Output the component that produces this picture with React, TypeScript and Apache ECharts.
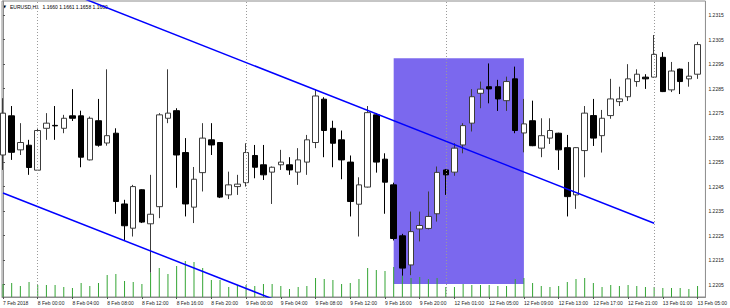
import React, { useEffect, useRef } from 'react';
import * as echarts from 'echarts';

const symbolName = 'EURUSD,H1';
const headerPrices = '1.1660 1.1661 1.1658 1.1660';

const xTickLabels = [
  '7 Feb 2018', '8 Feb 00:00', '8 Feb 04:00', '8 Feb 08:00', '8 Feb 12:00', '8 Feb 16:00', '8 Feb 20:00',
  '9 Feb 00:00', '9 Feb 04:00', '9 Feb 08:00', '9 Feb 12:00', '9 Feb 16:00', '9 Feb 20:00',
  '12 Feb 01:00', '12 Feb 05:00', '12 Feb 09:00', '12 Feb 13:00', '12 Feb 17:00', '12 Feb 21:00',
  '13 Feb 01:00', '13 Feb 05:00',
];
const barsPerLabel = 4;

const priceTicks = [
  1.2205, 1.2215, 1.2225, 1.2235, 1.2245, 1.2255, 1.2265, 1.2275, 1.2285, 1.2295, 1.2305, 1.2315,
];

const opens = [
  1.22579, 1.22739, 1.22600, 1.22619, 1.22517, 1.22688, 1.22700, 1.22688, 1.22739, 1.22739,
  1.22559, 1.22719, 1.22628, 1.22668, 1.22379, 1.22280, 1.22437, 1.22298, 1.22368, 1.22729,
  1.22760, 1.22589, 1.22366, 1.22507, 1.22641, 1.22630, 1.22416, 1.22450, 1.22466, 1.22577,
  1.22539, 1.22509, 1.22539, 1.22539, 1.22509, 1.22550, 1.22630, 1.22807, 1.22688, 1.22641,
  1.22550, 1.22378, 1.22448, 1.22743, 1.22562, 1.22457, 1.22249, 1.22130, 1.22277, 1.22279,
  1.22339, 1.22518, 1.22509, 1.22620, 1.22709, 1.22831, 1.22858, 1.22858, 1.22801, 1.22890,
  1.22669, 1.22719, 1.22607, 1.22648, 1.22668, 1.22609, 1.22416, 1.22597, 1.22740, 1.22658,
  1.22740, 1.22797, 1.22817, 1.22879, 1.22897, 1.22897, 1.22978, 1.22845, 1.22930, 1.22890,
  1.22909,
];
const closes = [
  1.22750, 1.22590, 1.22630, 1.22528, 1.22679, 1.22709, 1.22698, 1.22729, 1.22729, 1.22570,
  1.22729, 1.22619, 1.22658, 1.22389, 1.22290, 1.22450, 1.22305, 1.22337, 1.22743, 1.22750,
  1.22579, 1.22379, 1.22480, 1.22648, 1.22620, 1.22407, 1.22457, 1.22460, 1.22589, 1.22529,
  1.22498, 1.22529, 1.22550, 1.22518, 1.22559, 1.22641, 1.22820, 1.22679, 1.22627, 1.22559,
  1.22389, 1.22457, 1.22752, 1.22550, 1.22468, 1.22238, 1.22117, 1.22266, 1.22291, 1.22328,
  1.22508, 1.22498, 1.22607, 1.22699, 1.22817, 1.22848, 1.22849, 1.22808, 1.22879, 1.22679,
  1.22706, 1.22617, 1.22658, 1.22679, 1.22600, 1.22409, 1.22609, 1.22750, 1.22648, 1.22729,
  1.22808, 1.22808, 1.22890, 1.22909, 1.22890, 1.22990, 1.22838, 1.22922, 1.22879, 1.22901,
  1.23030,
];
const lows = [
  1.22518, 1.22559, 1.22579, 1.22498, 1.22514, 1.22641, 1.22641, 1.22668, 1.22718, 1.22529,
  1.22557, 1.22613, 1.22617, 1.22339, 1.22232, 1.22246, 1.22301, 1.22098, 1.22321, 1.22709,
  1.22445, 1.22328, 1.22301, 1.22430, 1.22579, 1.22403, 1.22399, 1.22416, 1.22450, 1.22484,
  1.22477, 1.22379, 1.22518, 1.22498, 1.22457, 1.22498, 1.22607, 1.22570, 1.22529, 1.22480,
  1.22328, 1.22246, 1.22446, 1.22507, 1.22339, 1.22230, 1.22086, 1.22088, 1.22226, 1.22275,
  1.22307, 1.22416, 1.22494, 1.22586, 1.22675, 1.22770, 1.22790, 1.22759, 1.22759, 1.22668,
  1.22590, 1.22615, 1.22570, 1.22624, 1.22518, 1.22328, 1.22359, 1.22488, 1.22616, 1.22589,
  1.22727, 1.22779, 1.22800, 1.22858, 1.22849, 1.22895, 1.22836, 1.22836, 1.22828, 1.22858,
  1.22890,
];
const highs = [
  1.22811, 1.22779, 1.22709, 1.22641, 1.22690, 1.22750, 1.22779, 1.22743, 1.22848, 1.22760,
  1.22736, 1.22808, 1.22929, 1.22688, 1.22396, 1.22457, 1.22439, 1.22498, 1.22750, 1.22929,
  1.22770, 1.22648, 1.22530, 1.22709, 1.22709, 1.22632, 1.22511, 1.22498, 1.22627, 1.22620,
  1.22620, 1.22532, 1.22600, 1.22570, 1.22607, 1.22661, 1.22848, 1.22815, 1.22719, 1.22679,
  1.22577, 1.22488, 1.22779, 1.22750, 1.22586, 1.22466, 1.22257, 1.22348, 1.22348, 1.22430,
  1.22532, 1.22522, 1.22627, 1.22709, 1.22848, 1.22879, 1.22953, 1.22886, 1.22899, 1.22940,
  1.22808, 1.22801, 1.22729, 1.22729, 1.22670, 1.22661, 1.22611, 1.22779, 1.22808, 1.22763,
  1.22890, 1.22858, 1.22950, 1.22929, 1.22909, 1.23069, 1.22999, 1.22959, 1.22932, 1.22959,
  1.23041,
];
const volumes = [
  1300, 1400, 1100, 1500, 1200, 1200, 1200, 1000, 900, 1400,
  1100, 1400, 2200, 2300, 1600, 1500, 1300, 2400, 2900, 2300,
  3100, 3600, 3500, 2900, 1700, 1700, 1000, 1200, 1200, 1100,
  1300, 1300, 1100, 800, 1000, 1100, 1900, 1800, 1700, 1300,
  1400, 1800, 2900, 2700, 2600, 3000, 2100, 1900, 2000, 1800,
  1900, 1000, 1000, 1300, 1200, 1200, 1200, 1100, 1100, 1800,
  1900, 1400, 1100, 1000, 1100, 1500, 1800, 1900, 1400, 1000,
  1200, 1100, 1200, 1100, 1000, 1000, 900, 900, 900, 800,
  1100,
];

const daySeparators = [4, 28, 51, 75];
const trendUpper = [[9, 1.23222], [75, 1.223]];
const trendLower = [[0, 1.22424], [32, 1.21978]];
const zoneStart = [45, 1.22974];
const zoneEnd = [60, 1.22052];

const FONT = '"Liberation Sans", Arial, sans-serif';

export default function App() {
  const ref = useRef<HTMLDivElement>(null);
  useEffect(() => {
    const chart = echarts.init(ref.current!, null, { renderer: 'svg' });
    const candles = opens.map((o, i) => [i, o, closes[i], lows[i], highs[i]]);
    const vol = volumes.map((v, i) => [i, v]);
    const xTickIndex = xTickLabels.map((_, k) => k * barsPerLabel);
    chart.setOption({
      animation: false,
      backgroundColor: '#ffffff',
      grid: {
        left: 1, right: 20, top: 1, bottom: 11,
        show: true, borderColor: '#8c8c8c', borderWidth: 1, backgroundColor: 'transparent',
      },
      xAxis: {
        type: 'value', min: -0.11, max: 80.91,
        axisLine: { show: true, lineStyle: { color: '#8c8c8c', width: 1 } },
        axisTick: { show: true, customValues: xTickIndex, length: 2, lineStyle: { color: '#555' } },
        axisLabel: {
          customValues: xTickIndex,
          formatter: (v: number) => xTickLabels[Math.round(v / barsPerLabel)] ?? '',
          fontSize: 5, color: '#222', align: 'left', margin: 3, fontFamily: FONT,
        },
        splitLine: { show: false },
      },
      yAxis: [
        {
          type: 'value', position: 'right', min: 1.21999, max: 1.23208, scale: true,
          axisLine: { show: true, lineStyle: { color: '#8c8c8c', width: 1 } },
          axisTick: { show: true, customValues: priceTicks, length: 2, lineStyle: { color: '#555' } },
          axisLabel: {
            customValues: priceTicks,
            formatter: (v: number) => v.toFixed(4),
            fontSize: 5, color: '#222', margin: 3, fontFamily: FONT,
          },
          splitLine: { show: false },
        },
        { type: 'value', min: 0, max: 29600, show: false },
      ],
      series: [
        {
          type: 'line', name: 'Zone', xAxisIndex: 0, yAxisIndex: 0, data: [], z: 1, silent: true,
          markArea: {
            silent: true,
            itemStyle: { color: '#7b68ee', opacity: 1 },
            data: [[{ coord: zoneStart }, { coord: zoneEnd }]],
          },
          markLine: {
            silent: true, symbol: ['none', 'none'], label: { show: false },
            lineStyle: { color: '#9a9a9a', type: [1, 2], width: 1 },
            data: daySeparators.map((x) => ({ xAxis: x })),
          },
        },
        {
          type: 'bar', name: 'Volume', xAxisIndex: 0, yAxisIndex: 1, data: vol,
          barWidth: 1, itemStyle: { color: '#34a534' }, z: 2, silent: true,
        },
        {
          type: 'candlestick', name: 'EURUSD', xAxisIndex: 0, yAxisIndex: 0,
          encode: { x: 0, y: [1, 2, 3, 4] }, data: candles, barWidth: 6, z: 3, silent: true,
          itemStyle: {
            color: '#ffffff', color0: '#000000',
            borderColor: '#3c3c3c', borderColor0: '#000000', borderWidth: 1,
          },
        },
        {
          type: 'line', name: 'Trend 1', data: trendUpper, showSymbol: false, silent: true, z: 6,
          lineStyle: { color: '#0000ff', width: 1.5 },
        },
        {
          type: 'line', name: 'Trend 2', data: trendLower, showSymbol: false, silent: true, z: 6,
          lineStyle: { color: '#0000ff', width: 1.5 },
        },
      ],
      graphic: [
        { type: 'text', x: 3, y: 4, style: { text: '▼', fontSize: 4, fill: '#000', fontFamily: '"DejaVu Sans"' } },
        { type: 'text', x: 10, y: 4, style: { text: symbolName, fontSize: 5, fill: '#000', fontFamily: FONT } },
        { type: 'text', x: 42.5, y: 4, style: { text: headerPrices, fontSize: 5, fill: '#000', fontFamily: FONT } },
      ],
    });
    return () => chart.dispose();
  }, []);
  return (
    <div
      ref={ref}
      style={{ position: 'absolute', left: 0, top: 0, width: 730, height: 308 }}
    />
  );
}
